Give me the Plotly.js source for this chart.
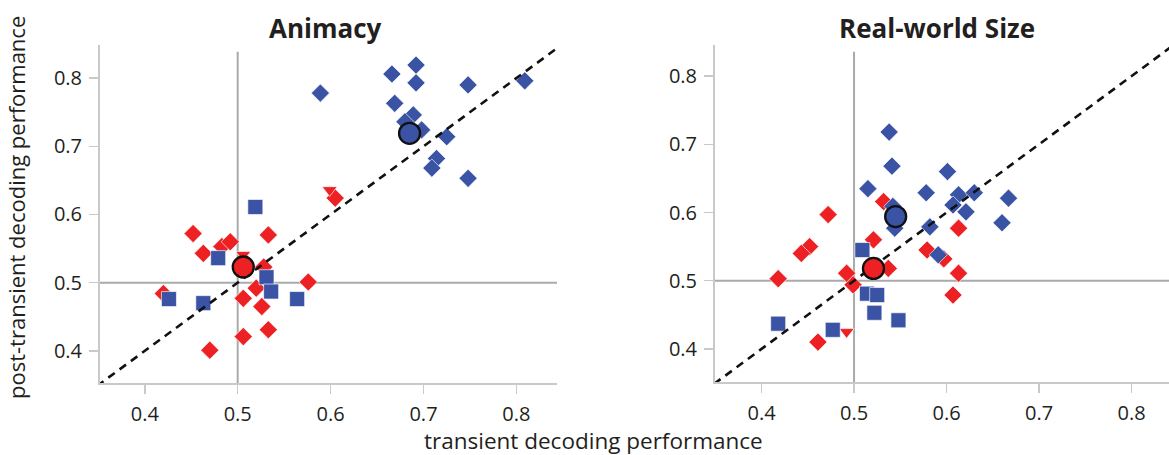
<!DOCTYPE html>
<html>
<head>
<meta charset="utf-8">
<script src="https://cdn.plot.ly/plotly-3.0.1.min.js"></script>
<style>html,body{margin:0;padding:0;background:#fff;}#chart{width:1169px;height:455px;}</style>
</head>
<body>
<div id="chart"></div>
<script>
// ---------- data ----------
const panelTitles = ["Animacy", "Real-world Size"];
const xAxisTitle = "transient decoding performance";
const yAxisTitle = "post-transient decoding performance";
const tickValues = [0.4, 0.5, 0.6, 0.7, 0.8];
const tickLabels = ["0.4", "0.5", "0.6", "0.7", "0.8"];
const chanceLevel = 0.5;
const identityLine = [0.3, 0.9];

// Animacy panel
const animRedDiamondX = [0.452, 0.463, 0.483, 0.492, 0.533, 0.528, 0.420, 0.506, 0.520, 0.526, 0.506, 0.533, 0.470, 0.576, 0.605];
const animRedDiamondY = [0.572, 0.543, 0.553, 0.560, 0.570, 0.523, 0.484, 0.477, 0.492, 0.465, 0.421, 0.431, 0.401, 0.501, 0.624];
const animRedTriangleX = [0.506, 0.599];
const animRedTriangleY = [0.541, 0.636];
const animBlueDiamondX = [0.589, 0.666, 0.692, 0.692, 0.748, 0.809, 0.669, 0.689, 0.680, 0.698, 0.725, 0.714, 0.709, 0.748];
const animBlueDiamondY = [0.778, 0.806, 0.819, 0.793, 0.790, 0.796, 0.763, 0.746, 0.736, 0.724, 0.714, 0.682, 0.668, 0.653];
const animBlueSquareX = [0.519, 0.479, 0.531, 0.536, 0.564, 0.426, 0.463];
const animBlueSquareY = [0.611, 0.536, 0.508, 0.487, 0.476, 0.476, 0.470];
const animMeanX = [0.506, 0.685];
const animMeanY = [0.523, 0.719];

// Real-world size panel
const sizeRedDiamondX = [0.472, 0.452, 0.443, 0.418, 0.492, 0.499, 0.521, 0.532, 0.537, 0.579, 0.597, 0.613, 0.613, 0.607, 0.461];
const sizeRedDiamondY = [0.597, 0.550, 0.540, 0.503, 0.511, 0.494, 0.560, 0.616, 0.518, 0.545, 0.532, 0.577, 0.511, 0.479, 0.410];
const sizeRedTriangleX = [0.492];
const sizeRedTriangleY = [0.425];
const sizeBlueDiamondX = [0.538, 0.541, 0.515, 0.601, 0.578, 0.613, 0.630, 0.607, 0.621, 0.667, 0.660, 0.582, 0.591, 0.542, 0.544];
const sizeBlueDiamondY = [0.718, 0.668, 0.635, 0.660, 0.629, 0.626, 0.629, 0.611, 0.601, 0.621, 0.585, 0.579, 0.538, 0.609, 0.577];
const sizeBlueSquareX = [0.509, 0.514, 0.525, 0.522, 0.548, 0.418, 0.477];
const sizeBlueSquareY = [0.545, 0.481, 0.479, 0.453, 0.442, 0.437, 0.428];
const sizeMeanX = [0.521, 0.545];
const sizeMeanY = [0.518, 0.594];

// ---------- styles ----------
const RED = "rgb(237,32,36)";
const BLUE = "rgb(58,83,164)";
const AXIS_GREY = "#c9c9c9";
const REF_GREY = "#aaaaaa";
const TEXT = "#231f20";
const FONT = "Open Sans, Noto Sans, DejaVu Sans, sans-serif";

function pts(x, y, xa, ya, symbol, color, size) {
  return {
    type: "scatter", mode: "markers", x: x, y: y, xaxis: xa, yaxis: ya,
    hoverinfo: "skip",
    marker: {symbol: symbol, color: color, size: size, line: {color: "rgba(255,255,255,0.8)", width: 0.8}}
  };
}
function means(x, y, xa, ya) {
  return {
    type: "scatter", mode: "markers", x: x, y: y, xaxis: xa, yaxis: ya,
    hoverinfo: "skip",
    marker: {symbol: "circle", color: [RED, BLUE], size: 21, line: {color: "#111", width: 2.3}}
  };
}
function diag(xa, ya) {
  return {
    type: "scatter", mode: "lines", x: identityLine, y: identityLine, xaxis: xa, yaxis: ya,
    hoverinfo: "skip", line: {color: "#111", width: 2.6, dash: "8px,6px"}
  };
}

const traces = [
  pts(animRedDiamondX, animRedDiamondY, "x", "y", "diamond", RED, 14),
  pts(animRedTriangleX, animRedTriangleY, "x", "y", "triangle-down", RED, 13),
  pts(animBlueDiamondX, animBlueDiamondY, "x", "y", "diamond", BLUE, 14),
  pts(animBlueSquareX, animBlueSquareY, "x", "y", "square", BLUE, 15),
  diag("x", "y"),
  means(animMeanX, animMeanY, "x", "y"),
  pts(sizeRedDiamondX, sizeRedDiamondY, "x2", "y2", "diamond", RED, 14),
  pts(sizeRedTriangleX, sizeRedTriangleY, "x2", "y2", "triangle-down", RED, 13),
  pts(sizeBlueDiamondX, sizeBlueDiamondY, "x2", "y2", "diamond", BLUE, 14),
  pts(sizeBlueSquareX, sizeBlueSquareY, "x2", "y2", "square", BLUE, 15),
  diag("x2", "y2"),
  means(sizeMeanX, sizeMeanY, "x2", "y2")
];

function axis(domain, range, anchor) {
  return {
    domain: domain, range: range, anchor: anchor,
    showline: true, linecolor: AXIS_GREY, linewidth: 2,
    ticks: "outside", ticklen: 9, tickwidth: 1.5, tickcolor: AXIS_GREY,
    tickvals: tickValues, ticktext: tickLabels,
    ticklabelstandoff: 3,
    tickfont: {family: FONT, size: 20, color: TEXT},
    showgrid: false, zeroline: false, fixedrange: true
  };
}

function refLines(xr, yr) {
  return [
    {type: "line", layer: "below", xref: xr, yref: yr + " domain", x0: chanceLevel, x1: chanceLevel, y0: 0, y1: 0.98,
     line: {color: REF_GREY, width: 2}},
    {type: "line", layer: "below", xref: xr + " domain", yref: yr, x0: 0, x1: 1, y0: chanceLevel, y1: chanceLevel,
     line: {color: REF_GREY, width: 2}}
  ];
}

const W = 1169, H = 455;
const layout = {
  width: W, height: H,
  margin: {l: 0, r: 0, t: 0, b: 0},
  paper_bgcolor: "#fff", plot_bgcolor: "#fff",
  showlegend: false,
  xaxis: axis([100 / W, 557 / W], [0.3518, 0.8437], "y"),
  yaxis: axis([(H - 383) / H, (H - 45) / H], [0.3529, 0.8485], "x"),
  xaxis2: axis([715 / W, 1], [0.3497, 0.8405], "y2"),
  yaxis2: axis([(H - 382) / H, (H - 45) / H], [0.3515, 0.8456], "x2"),
  shapes: refLines("x", "y").concat(refLines("x2", "y2")),
  annotations: [
    {text: "<b>" + panelTitles[0] + "</b>", xref: "paper", yref: "paper", x: 325 / W, y: (H - 28) / H,
     xanchor: "center", yanchor: "middle", showarrow: false, font: {family: FONT, size: 26, color: TEXT}},
    {text: "<b>" + panelTitles[1] + "</b>", xref: "paper", yref: "paper", x: 937 / W, y: (H - 28) / H,
     xanchor: "center", yanchor: "middle", showarrow: false, font: {family: FONT, size: 26, color: TEXT}},
    {text: xAxisTitle, xref: "paper", yref: "paper", x: 593 / W, y: (H - 440) / H,
     xanchor: "center", yanchor: "middle", showarrow: false, font: {family: FONT, size: 22.5, color: TEXT}},
    {text: yAxisTitle, xref: "paper", yref: "paper", x: 16 / W, y: (H - 208) / H, textangle: -90,
     xanchor: "center", yanchor: "middle", showarrow: false, font: {family: FONT, size: 22, color: TEXT}}
  ]
};

Plotly.newPlot("chart", traces, layout, {staticPlot: true, displayModeBar: false});
</script>
</body>
</html>
